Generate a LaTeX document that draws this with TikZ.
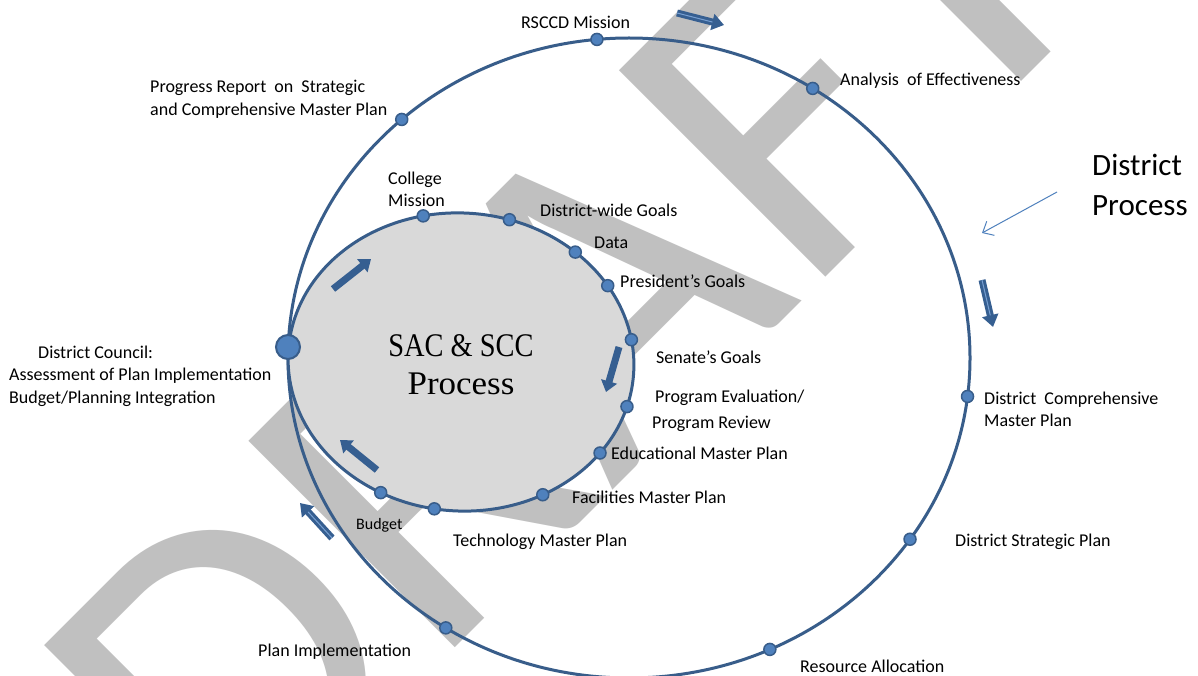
\documentclass[tikz,border=0pt]{standalone}
\usepackage{fontspec}
\usepackage{graphicx}
\setmainfont{Carlito}
\newfontfamily\seriffont{Liberation Serif}
\usetikzlibrary{arrows.meta}
\definecolor{lineblue}{RGB}{56,93,138}
\definecolor{dotblue}{RGB}{79,129,189}
\definecolor{innerfill}{RGB}{217,217,217}
\definecolor{wmgray}{RGB}{192,192,192}
\definecolor{arrowblue}{RGB}{54,95,145}
\definecolor{stripeblue}{RGB}{120,160,210}
\begin{document}
\begin{tikzpicture}[x=1pt,y=-1pt,
  lbl/.style={anchor=west, inner sep=0pt, align=left, font=\fontsize{18}{22}\selectfont, text=black},
  dot/.style={circle, fill=dotblue, draw=lineblue, line width=1.5pt, minimum size=12pt, inner sep=0pt},
  bigdot/.style={circle, fill=dotblue, draw=lineblue, line width=2pt, minimum size=24pt, inner sep=0pt},
  ring/.style={draw=lineblue, line width=3pt},
  flowarrow/.style={arrowblue, line width=7pt, -{Triangle[width=16pt,length=11pt]}},
  outerarrow/.style={arrowblue, line width=7pt, -{Triangle[width=16pt,length=12pt]}},
  stripe/.style={stripeblue, line width=1pt},
  pointer/.style={dotblue, line width=1pt, -{Straight Barb[length=9pt,width=16pt]}}
]
\useasboundingbox (0,0) rectangle (1198,676);
\clip (0,0) rectangle (1198,676);
\fill[white] (0,0) rectangle (1198,676);
% watermark
\node[anchor=base west, rotate=45, xscale=1.03, inner sep=0pt, text=wmgray, font=\fontsize{455}{455}\selectfont] (wm) at (228,875) {DRAFT};
% outer ring
\draw[ring] (629,358) ellipse [x radius=341, y radius=320];
% inner ring and its dots
\begin{scope}[shift={(461,362)}, rotate=-3.8]
  \draw[ring, fill=innerfill] (0,0) ellipse [x radius=173, y radius=149];
  \path (254.1:173 and 149) node[dot] (i1) {};
  \path (283.0:173 and 149) node[dot] (i2) {};
  \path (308.1:173 and 149) node[dot] (i3) {};
  \path (324.8:173 and 149) node[dot] (i4) {};
  \path (347.0:173 and 149) node[dot] (i5) {};
  \path (13.0:173 and 149) node[dot] (i6) {};
  \path (33.2:173 and 149) node[dot] (i7) {};
  \path (58.5:173 and 149) node[dot] (i8) {};
  \path (95.6:173 and 149) node[dot] (i9) {};
  \path (114.4:173 and 149) node[dot] (i10) {};
\end{scope}
% outer dots
\path (629,358) ++(264.6:341 and 320) node[dot] (o1) {};
\path (629,358) ++(302.6:341 and 320) node[dot] (o2) {};
\path (629,358) ++(6.9:341 and 320) node[dot] (o3) {};
\path (629,358) ++(34.5:341 and 320) node[dot] (o4) {};
\path (629,358) ++(65.6:341 and 320) node[dot] (o5) {};
\path (629,358) ++(122.5:341 and 320) node[dot] (o6) {};
\path (629,358) ++(228.2:341 and 320) node[dot] (o7) {};
\node[bigdot] (council) at (288,347) {};
% flow arrows
\coordinate (a1s) at (677,13);  \coordinate (a1e) at (724,25);
\coordinate (a2s) at (982,280); \coordinate (a2e) at (993,327);
\coordinate (a3s) at (333,289); \coordinate (a3e) at (371,259);
\coordinate (a4s) at (619,347); \coordinate (a4e) at (606,392);
\coordinate (a5s) at (377,470); \coordinate (a5e) at (340,440);
\coordinate (a6s) at (332,538); \coordinate (a6e) at (300,503);
\draw[outerarrow] (a1s) -- (a1e);
\draw[stripe, shorten >=12pt] (a1s) -- (a1e);
\draw[outerarrow] (a2s) -- (a2e);
\draw[stripe, shorten >=12pt] (a2s) -- (a2e);
\draw[outerarrow] (a6s) -- (a6e);
\draw[stripe, shorten >=12pt] (a6s) -- (a6e);
\draw[flowarrow] (a3s) -- (a3e);
\draw[flowarrow] (a4s) -- (a4e);
\draw[flowarrow] (a5s) -- (a5e);
% district process pointer
\coordinate (ps) at (1057,192); \coordinate (pe) at (982,233);
\draw[pointer] (ps) -- (pe);
% labels
\node[lbl] (l1) at (521,22) {RSCCD Mission};
\node[lbl] (l2) at (840,81) {Analysis\ \ of Effectiveness};
\node[lbl, font=\fontsize{18}{23}\selectfont] (l3) at (150,99.5) {Progress Report\ \ on\ \ Strategic\\and Comprehensive Master Plan};
\node[lbl, font=\fontsize{31}{40}\selectfont] (l4) at (1092,185) {District\\Process};
\node[lbl] (l5) at (388,189) {College\\Mission};
\node[lbl] (l6) at (540,210) {District-wide Goals};
\node[lbl] (l7) at (594,243) {Data};
\node[lbl] (l8) at (620,281) {President’s Goals};
\node[lbl] (l9) at (656,357) {Senate’s Goals};
\node[lbl] (l10) at (655,398) {Program Evaluation/};
\node[lbl] (l11) at (652,424) {Program Review};
\node[lbl] (l12) at (984,409) {District\ \ Comprehensive\\Master Plan};
\node[lbl] (l13) at (611,453) {Educational Master Plan};
\node[lbl] (l14) at (572,497) {Facilities Master Plan};
\node[lbl, font=\fontsize{16}{20}\selectfont] (l15) at (356,525) {Budget};
\node[lbl] (l16) at (453,542) {Technology Master Plan};
\node[lbl] (l17) at (955,542) {District Strategic Plan};
\node[lbl] (l18) at (258,652) {Plan Implementation};
\node[lbl] (l19) at (800,666) {Resource Allocation};
\node[lbl, font=\fontsize{18}{22.5}\selectfont] (l20) at (9,376) {\hspace*{29pt}District Council:\\Assessment of Plan Implementation\\Budget/Planning Integration};
\node[align=center, inner sep=0pt, font=\seriffont\fontsize{33}{38}\selectfont] (sac) at (461,365) {\scalebox{0.86}[1]{SAC \& SCC}\\\scalebox{1.06}[1]{Process}};
\end{tikzpicture}
\end{document}
